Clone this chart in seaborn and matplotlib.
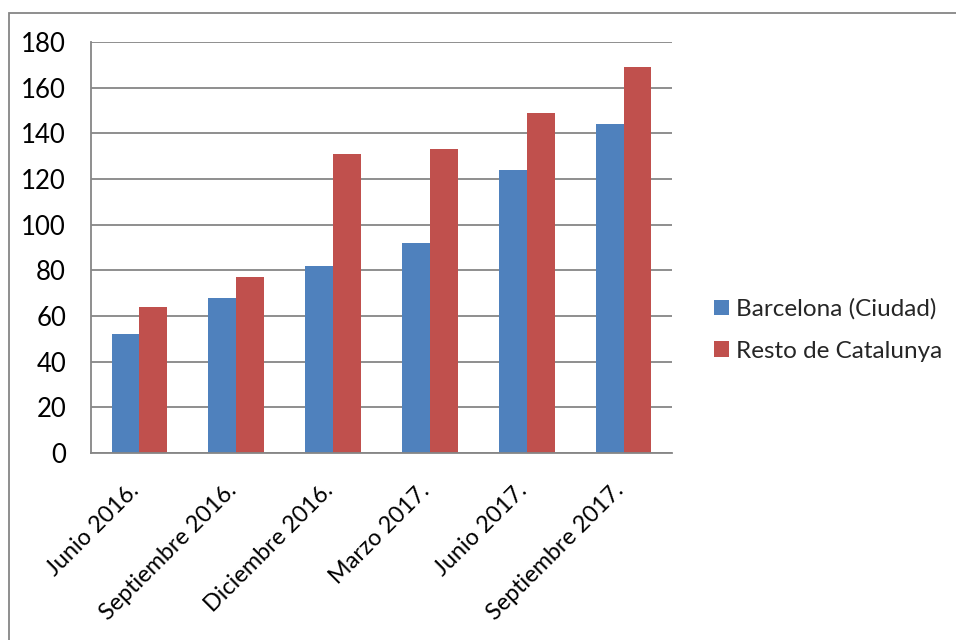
import matplotlib
matplotlib.use("Agg")
import matplotlib.pyplot as plt
import seaborn as sns
import pandas as pd
from matplotlib.patches import Rectangle, Patch

periods = ["Junio 2016.", "Septiembre 2016.", "Diciembre 2016.",
           "Marzo 2017.", "Junio 2017.", "Septiembre 2017."]
barcelona = [52, 68, 82, 92, 124, 144]
resto = [64, 77, 131, 133, 149, 169]
series_names = ["Barcelona (Ciudad)", "Resto de Catalunya"]
yticks = [0, 20, 40, 60, 80, 100, 120, 140, 160, 180]

df = pd.DataFrame({
    "periodo": periods * 2,
    "valor": barcelona + resto,
    "serie": [series_names[0]] * len(periods) + [series_names[1]] * len(periods),
})

sns.set_style("white")
plt.rcParams["font.family"] = ["Lato", "DejaVu Sans"]

colors = {"Barcelona (Ciudad)": "#4F81BD", "Resto de Catalunya": "#C0504D"}

fig = plt.figure(figsize=(9.56, 6.4), dpi=100)
ax = fig.add_axes([91 / 956, 1 - 453 / 640, 581 / 956, 411 / 640])

sns.barplot(data=df, x="periodo", y="valor", hue="serie", palette=colors,
            width=0.575, gap=0, saturation=1, ax=ax, legend=False,
            edgecolor="none", linewidth=0)

ax.set_xlim(-0.5, len(periods) - 0.5)
ax.set_ylim(0, 180)
ax.set_yticks(yticks)
ax.set_yticklabels([str(v) for v in yticks], fontsize=18.5)

# slanted period labels, placed below each category position
ax.set_xticks(range(len(periods)))
ax.set_xticklabels([])
for i, name in enumerate(periods):
    ax.annotate(name, xy=(i, 0), xycoords=ax.get_xaxis_transform(),
                xytext=(1, -39), textcoords="offset pixels",
                rotation=45, rotation_mode="anchor", ha="right",
                va="baseline", fontsize=16.8, color="black",
                annotation_clip=False)

ax.set_xlabel("")
ax.set_ylabel("")
ax.yaxis.grid(True, color="#868686", linewidth=1.3)
ax.set_axisbelow(True)
for side in ["top", "right"]:
    ax.spines[side].set_visible(False)
for side in ["left", "bottom"]:
    ax.spines[side].set_color("#868686")
    ax.spines[side].set_linewidth(1.3)
ax.tick_params(axis="y", length=0, pad=18, labelcolor="black")
ax.tick_params(axis="x", length=0, pad=0)

handles = [Patch(facecolor=colors[n], edgecolor="none") for n in series_names]
fig.legend(handles, series_names, loc="center left",
           bbox_to_anchor=(714 / 956, 1 - 330 / 640), frameon=False,
           fontsize=17.5, handlelength=0.6, handleheight=0.6,
           handletextpad=0.3, labelspacing=0.85, borderaxespad=0,
           borderpad=0)

# outer chart border
fig.patches.append(Rectangle((8.5 / 956, -0.1), 1.2, 1 - 12.5 / 640 + 0.1,
                             transform=fig.transFigure, fill=False,
                             edgecolor="#868686", linewidth=1.3))

fig.savefig("out.png", dpi=100)
